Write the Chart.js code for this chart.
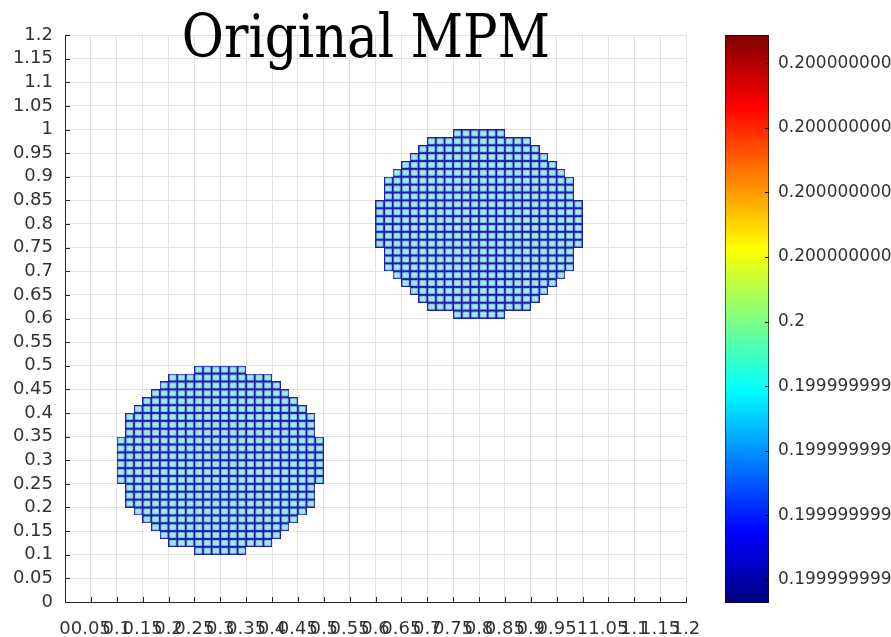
<!DOCTYPE html>
<html>
<head>
<meta charset="utf-8">
<title>Original MPM</title>
<script src="https://cdn.jsdelivr.net/npm/chart.js@4.4.1/dist/chart.umd.min.js"></script>
<style>
  html, body { margin: 0; padding: 0; background: #fff; }
  #wrap { position: relative; width: 891px; height: 637px; overflow: hidden; }
  #wrap canvas { position: absolute; left: 0; top: 0; }
</style>
</head>
<body>
<div id="wrap">
  <canvas id="mpmChart" width="891" height="637"></canvas>
  <canvas id="cbChart" width="891" height="637"></canvas>
</div>
<script>
// axis ticks (same on x and y)
const axisTicks = [0, 0.05, 0.1, 0.15, 0.2, 0.25, 0.3, 0.35, 0.4, 0.45, 0.5, 0.55, 0.6,
  0.65, 0.7, 0.75, 0.8, 0.85, 0.9, 0.95, 1, 1.05, 1.1, 1.15, 1.2];
const axisLabels = ['0', '0.05', '0.1', '0.15', '0.2', '0.25', '0.3', '0.35', '0.4', '0.45', '0.5', '0.55', '0.6',
  '0.65', '0.7', '0.75', '0.8', '0.85', '0.9', '0.95', '1', '1.05', '1.1', '1.15', '1.2'];

// material points: two discs, rows of cells read top to bottom
const discCenters = [[0.3, 0.3], [0.8, 0.8]];
const cellSize = 1 / 60;
const rowCells = [6, 12, 14, 16, 18, 20, 22, 22, 22, 24, 24, 24, 24, 24, 24, 22, 22, 22, 20, 18, 16, 14, 12, 6];

// colorbar
const cbMin = -0.36, cbMax = 8.44;
const cbTicks = [0, 1, 2, 3, 4, 5, 6, 7, 8];
const cbLabels = ['0.19999999999999998', '0.19999999999999998', '0.19999999999999998', '0.19999999999999998',
  '0.2', '0.20000000000000004', '0.20000000000000004', '0.20000000000000004', '0.20000000000000004'];

const titleText = 'Original MPM';

function discParticles(cx, cy) {
  const pts = [];
  const top = cy + rowCells.length * cellSize / 2;
  rowCells.forEach((n, r) => {
    const y = top - (r + 0.5) * cellSize;
    for (let j = 0; j < n; j++) {
      pts.push({ x: cx + (j - n / 2 + 0.5) * cellSize, y: y });
    }
  });
  return pts;
}

/* one cell = small square sized from the scales */
let cellImg = null;
function cellStyle(ctx) {
  const xs = ctx.chart.scales.x, ys = ctx.chart.scales.y;
  const w = Math.round(Math.abs(xs.getPixelForValue(cellSize) - xs.getPixelForValue(0)));
  const h = Math.round(Math.abs(ys.getPixelForValue(0) - ys.getPixelForValue(cellSize)));
  if (!cellImg || cellImg.width !== w || cellImg.height !== h) {
    cellImg = document.createElement('canvas');
    cellImg.width = w;
    cellImg.height = h;
    const g = cellImg.getContext('2d');
    g.fillStyle = '#a2eae8';
    g.fillRect(0, 0, w, h);
    g.strokeStyle = '#1c1cae';
    g.lineWidth = 1.2;
    g.strokeRect(0.6, 0.6, w - 1.2, h - 1.2);
  }
  return cellImg;
}

const tickFont = { family: 'DejaVu Sans', size: 18 };

/* MATLAB style ticks pointing inside */
const inwardTicks = {
  id: 'inwardTicks',
  afterDatasetsDraw(chart) {
    const { ctx, chartArea: a, scales: { x, y } } = chart;
    ctx.save();
    ctx.strokeStyle = '#262626';
    ctx.lineWidth = 1;
    ctx.beginPath();
    x.ticks.forEach(t => {
      const px = Math.round(x.getPixelForValue(t.value)) + 0.5;
      ctx.moveTo(px, a.bottom);
      ctx.lineTo(px, a.bottom - 5);
    });
    y.ticks.forEach(t => {
      const py = Math.round(y.getPixelForValue(t.value)) + 0.5;
      ctx.moveTo(a.left, py);
      ctx.lineTo(a.left + 5, py);
    });
    ctx.stroke();
    ctx.restore();
  }
};

const overlayTitle = {
  id: 'overlayTitle',
  afterDraw(chart) {
    const { ctx, chartArea: a } = chart;
    ctx.save();
    ctx.fillStyle = '#000';
    ctx.font = '59px "DejaVu Serif"';
    ctx.textAlign = 'center';
    ctx.textBaseline = 'alphabetic';
    ctx.translate(a.left + 301, a.top + 22);
    ctx.scale(0.87, 1);
    ctx.fillText(titleText, 0, 0);
    ctx.restore();
  }
};

new Chart(document.getElementById('mpmChart'), {
  type: 'scatter',
  data: {
    datasets: discCenters.map(c => ({
      data: discParticles(c[0], c[1]),
      pointStyle: cellStyle,
      pointRadius: 4
    }))
  },
  options: {
    responsive: false,
    animation: false,
    events: [],
    layout: { padding: { left: 0, right: 205, top: 35, bottom: 0 } },
    plugins: { legend: { display: false }, tooltip: { enabled: false } },
    scales: {
      x: {
        type: 'linear', min: 0, max: 1.2,
        afterBuildTicks: s => { s.ticks = axisTicks.map(v => ({ value: v })); },
        afterFit: s => { s.height = 35; },
        grid: { color: '#e2e2e2', drawTicks: false },
        border: { color: '#262626', width: 1 },
        ticks: {
          autoSkip: false, maxRotation: 0, minRotation: 0, padding: 17,
          color: '#333', font: tickFont,
          callback: (v, i) => axisLabels[i]
        }
      },
      y: {
        type: 'linear', min: 0, max: 1.2,
        afterBuildTicks: s => { s.ticks = axisTicks.map(v => ({ value: v })); },
        afterFit: s => { s.width = 65; },
        grid: { color: '#e2e2e2', drawTicks: false },
        border: { color: '#262626', width: 1 },
        ticks: {
          autoSkip: false, padding: 12,
          color: '#333', font: tickFont,
          callback: (v, i) => axisLabels[i]
        }
      }
    }
  },
  plugins: [inwardTicks, overlayTitle]
});

/* colorbar */
const jetStops = [[0, '#000080'], [0.125, '#0000ff'], [0.375, '#00ffff'], [0.625, '#ffff00'], [0.875, '#ff0000'], [1, '#800000']];

function jetGradient(ctx) {
  const a = ctx.chart.chartArea;
  if (!a) return '#00ffff';
  const g = ctx.chart.ctx.createLinearGradient(0, a.bottom, 0, a.top);
  jetStops.forEach(s => g.addColorStop(s[0], s[1]));
  return g;
}

const cbTickMarks = {
  id: 'cbTickMarks',
  afterDatasetsDraw(chart) {
    const { ctx, chartArea: a, scales: { y } } = chart;
    ctx.save();
    ctx.strokeStyle = '#000';
    ctx.lineWidth = 1;
    ctx.beginPath();
    y.ticks.forEach(t => {
      const py = Math.round(y.getPixelForValue(t.value)) + 0.5;
      ctx.moveTo(a.right - 4, py);
      ctx.lineTo(a.right, py);
    });
    ctx.stroke();
    ctx.restore();
  }
};

new Chart(document.getElementById('cbChart'), {
  type: 'bar',
  data: {
    labels: [''],
    datasets: [{
      data: [[cbMin, cbMax]],
      backgroundColor: jetGradient,
      borderColor: '#111',
      borderWidth: 1,
      borderSkipped: false,
      barPercentage: 1,
      categoryPercentage: 1
    }]
  },
  options: {
    responsive: false,
    animation: false,
    events: [],
    layout: { padding: { left: 725, right: 0, top: 35, bottom: 34 } },
    plugins: { legend: { display: false }, tooltip: { enabled: false } },
    scales: {
      x: { display: false },
      y: {
        position: 'right', min: cbMin, max: cbMax,
        afterBuildTicks: s => { s.ticks = cbTicks.map(v => ({ value: v })); },
        afterFit: s => { s.width = 122; },
        grid: { display: false, drawTicks: false },
        border: { display: false },
        ticks: {
          autoSkip: false, padding: 9,
          color: '#333', font: { family: 'DejaVu Sans', size: 17 },
          callback: (v, i) => cbLabels[i]
        }
      }
    }
  },
  plugins: [cbTickMarks]
});
</script>
</body>
</html>
